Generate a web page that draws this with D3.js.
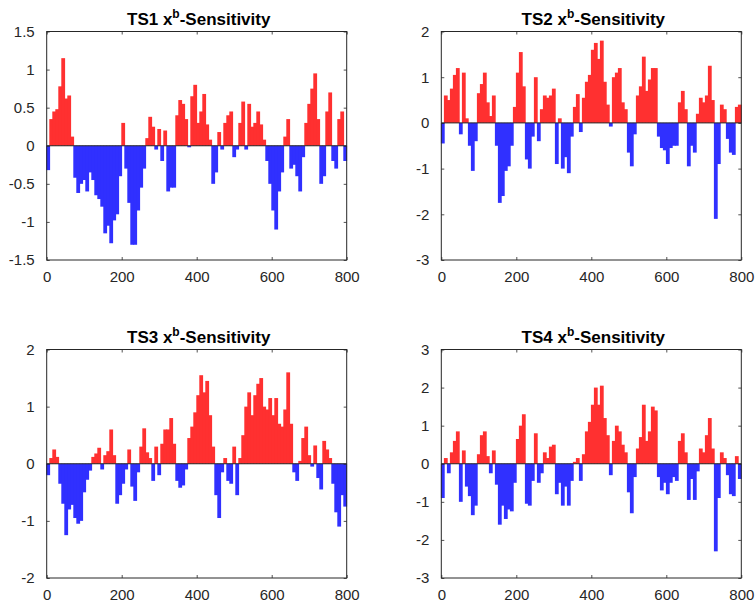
<!DOCTYPE html>
<html>
<head>
<meta charset="utf-8">
<script src="https://cdn.jsdelivr.net/npm/d3@7"></script>
<style>
  body { margin: 0; background: #fff; }
  svg { display: block; font-family: "Liberation Sans", Arial, Helvetica, sans-serif; }
</style>
</head>
<body>
<svg id="chart" width="756" height="608"></svg>
<script>
// ---- data (bar centres every 8 samples) ----
const sampleIndex = d3.range(100).map(i => 4 + 8 * i);
const binWidth = 8;

const ts1Values = [
  -0.32, 0.35, 0.45, 0.48, 0.78, 1.15, 0.62, 0.66, 0.12, -0.42,
  -0.62, -0.5, -0.45, -0.6, -0.35, -0.45, -0.65, -0.7, -0.8, -1.15,
  -1.05, -1.28, -0.98, -0.9, -0.4, 0.3, -0.3, -0.75, -1.3, -1.3,
  -0.85, -0.55, -0.3, 0.1, 0.38, 0.25, -0.05, 0.22, -0.2, 0.2,
  -0.6, -0.55, -0.55, 0.4, 0.6, 0.55, 0.35, -0.02, 0.65, 0.8,
  0.3, 0.45, 0.68, 0.28, 0.08, -0.5, -0.35, 0.18, -0.05, 0.3,
  0.4, 0.45, -0.15, -0.05, 0.3, 0.58, -0.05, 0.55, 0.25, 0.3,
  0.45, 0.28, 0.08, -0.2, -0.5, -0.85, -1.1, -0.6, -0.35, 0.12,
  0.35, -0.3, -0.25, -0.4, -0.6, -0.15, 0.3, 0.55, 0.75, 0.95,
  0.35, -0.5, -0.4, 0.45, 0.7, -0.2, -0.3, 0.35, 0.45, -0.2
];
const ts2Values = [
  -0.45, 0.6, 0.5, 0.75, 1.05, 1.2, -0.25, 1.1, 0.1, -0.5,
  -1.05, -0.4, 0.65, 0.85, 1.1, 0.45, 0.15, 0.6, -0.5, -1.75,
  -1.6, -1.05, -0.95, -0.5, 0.35, 1.1, 1.55, 0.8, -0.8, -1.0,
  -0.3, 1.0, -0.4, 0.3, 0.6, 0.55, 0.6, 0.75, -0.9, 0.1,
  -1.0, -0.75, -1.1, -0.3, 0.35, 0.63, -0.2, 0.55, 0.9, 1.05,
  1.6, 1.75, 1.4, 1.8, 0.9, 0.4, -0.08, 1.0, 1.1, 1.2,
  0.45, 0.3, -0.65, -0.95, -0.25, 0.6, 0.8, 1.45, 0.7, 0.95,
  1.2, 1.2, -0.3, -0.55, -0.6, -0.9, -0.55, -0.5, -0.5, 0.45,
  0.7, 0.3, -0.95, -0.5, -0.65, 0.2, 0.55, 0.45, 0.6, 1.25,
  0.5, -2.1, -0.9, 0.4, 0.3, -0.35, -0.65, -0.7, 0.35, 0.4
];
const ts3Values = [
  -0.2, 0.1, 0.25, 0.12, -0.35, -0.7, -1.25, -0.8, -0.72, -0.95,
  -1.05, -1.0, -0.5, -0.28, -0.12, 0.12, 0.18, 0.28, -0.1, 0.15,
  0.22, 0.6, 0.15, -0.7, -0.55, -0.35, -0.1, 0.25, -0.4, -0.65,
  -0.15, 0.3, 0.62, 0.2, 0.1, -0.3, 0.3, -0.2, 0.35, 0.6,
  0.6, 0.8, 0.35, -0.3, -0.42, -0.38, -0.1, 0.45, 0.65, 0.9,
  1.2, 1.55, 1.25, 1.45, 0.85, 0.3, -0.55, -0.95, -0.15, 0.1,
  -0.3, -0.35, 0.3, -0.55, 0.1, 0.5, 1.0, 1.25, 0.85, 1.2,
  1.4, 1.5, 1.0, 0.95, 1.15, 0.85, 1.15, 0.7, 0.65, 0.95,
  1.6, 0.7, -0.15, -0.3, 0.05, 0.45, 0.65, 0.15, -0.05, 0.32,
  -0.25, -0.45, 0.4, 0.25, 0.1, -0.35, -0.85, -1.1, -0.55, -0.75
];
const ts4Values = [
  -0.9, 0.15, -0.25, 0.3, 0.6, 0.85, -1.0, 0.35, -0.6, -0.85,
  -1.35, -1.1, 0.25, 0.75, 0.85, 0.2, -0.25, 0.35, -0.55, -1.6,
  -1.1, -1.45, -1.2, -1.25, -0.5, 0.65, 1.0, 1.3, -1.05, -1.1,
  -0.45, 0.8, -0.5, -0.25, 0.3, 0.15, 0.45, 0.5, -0.8, -0.5,
  -1.1, -0.6, -1.1, -0.45, 0.05, 0.15, -0.45, 0.25, 0.85, 1.1,
  1.55, 2.0, 1.55, 2.05, 1.2, 0.75, -0.3, 0.6, 1.0, 0.85,
  0.5, 0.3, -0.75, -1.3, -0.35, 0.4, 0.7, 1.55, 0.6, 0.85,
  1.5, 1.4, -0.35, -0.7, -0.5, -0.8, -0.5, -0.35, -0.45, 0.6,
  0.8, 0.3, -0.95, -0.4, -0.95, -0.2, 0.4, 0.3, 0.75, 1.2,
  0.4, -2.3, -0.9, 0.3, 0.15, -0.3, -0.8, -0.85, 0.2, -0.4
];

const panelTitles = ["TS1", "TS2", "TS3", "TS4"];
const xTicks = [0, 200, 400, 600, 800];
const yTicks1 = [-1.5, -1, -0.5, 0, 0.5, 1, 1.5];
const yTicks2 = [-3, -2, -1, 0, 1, 2];
const yTicks3 = [-2, -1, 0, 1, 2];
const yTicks4 = [-3, -2, -1, 0, 1, 2, 3];

// ---- layout ----
const panels = [
  { name: panelTitles[0], values: ts1Values, ticks: yTicks1, left: 46.7, top: 31.5, w: 300, h: 228.5 },
  { name: panelTitles[1], values: ts2Values, ticks: yTicks2, left: 441.3, top: 31.5, w: 300, h: 228.5 },
  { name: panelTitles[2], values: ts3Values, ticks: yTicks3, left: 46.7, top: 349.5, w: 300, h: 228.5 },
  { name: panelTitles[3], values: ts4Values, ticks: yTicks4, left: 441.3, top: 349.5, w: 300, h: 228.5 }
];

const svg = d3.select("#chart");
const axisColor = "#262626";
const redColor = "#ff3030";
const blueColor = "#3030ff";

panels.forEach(p => {
  const g = svg.append("g").attr("transform", `translate(${p.left},${p.top})`);
  const x = d3.scaleLinear().domain([0, 800]).range([0, p.w]);
  const y = d3.scaleLinear().domain([p.ticks[0], p.ticks[p.ticks.length - 1]]).range([p.h, 0]);

  const data = p.values.map((v, i) => ({ u: sampleIndex[i], v }));

  g.append("g").selectAll("rect")
    .data(data)
    .join("rect")
    .attr("x", d => x(d.u - binWidth / 2) - 0.4)
    .attr("width", d => x(d.u + binWidth / 2) - x(d.u - binWidth / 2) + 0.8)
    .attr("y", d => Math.min(y(d.v), y(0)))
    .attr("height", d => Math.abs(y(d.v) - y(0)))
    .attr("fill", d => d.v >= 0 ? redColor : blueColor);

  // baseline
  g.append("line")
    .attr("x1", 0).attr("x2", p.w)
    .attr("y1", y(0)).attr("y2", y(0))
    .attr("stroke", axisColor).attr("stroke-width", 1);

  const fmt = v => String(v);

  const styleAxis = sel => {
    sel.select(".domain").remove();
    sel.selectAll(".tick line").attr("stroke", axisColor).attr("stroke-width", 0.8);
    sel.selectAll(".tick text").attr("fill", axisColor).attr("font-size", 15)
      .attr("font-family", '"Liberation Sans", Arial, sans-serif');
  };

  g.append("g").attr("transform", `translate(0,${p.h})`)
    .call(d3.axisBottom(x).tickValues(xTicks).tickFormat(fmt).tickSizeInner(-3).tickSizeOuter(0).tickPadding(11))
    .call(styleAxis);
  g.append("g")
    .call(d3.axisTop(x).tickValues(xTicks).tickFormat("").tickSizeInner(-3).tickSizeOuter(0))
    .call(styleAxis);
  g.append("g")
    .call(d3.axisLeft(y).tickValues(p.ticks).tickFormat(fmt).tickSizeInner(-3).tickSizeOuter(0).tickPadding(12))
    .call(styleAxis);
  g.append("g").attr("transform", `translate(${p.w},0)`)
    .call(d3.axisRight(y).tickValues(p.ticks).tickFormat("").tickSizeInner(-3).tickSizeOuter(0))
    .call(styleAxis);

  // box
  g.append("rect")
    .attr("x", 0).attr("y", 0).attr("width", p.w).attr("height", p.h)
    .attr("fill", "none").attr("stroke", axisColor).attr("stroke-width", 1);

  // title
  const t = g.append("text")
    .attr("x", p.w / 2 + 2).attr("y", -6.5)
    .attr("text-anchor", "middle")
    .attr("font-size", 17).attr("font-weight", "bold").attr("fill", "#000");
  t.append("tspan").text(p.name + " x");
  t.append("tspan").attr("dy", -7).attr("font-size", 12).text("b");
  t.append("tspan").attr("dy", 7).text("-Sensitivity");
});
</script>
</body>
</html>
